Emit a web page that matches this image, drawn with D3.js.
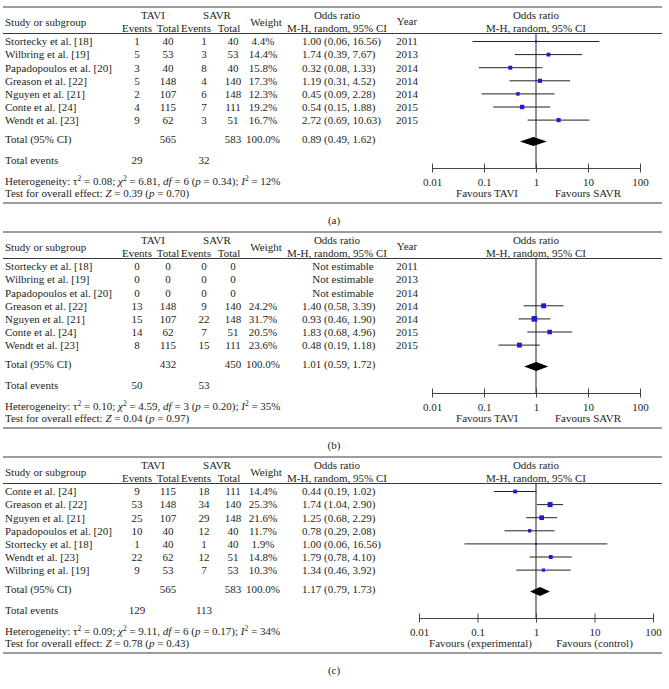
<!DOCTYPE html>
<html>
<head>
<meta charset="utf-8">
<script src="https://cdn.jsdelivr.net/npm/d3@7"></script>
<style>
  body { margin: 0; background: #fff; }
  svg text { font-family: "Liberation Serif", "Times New Roman", serif; font-size: 11px; fill: #231f20; }
</style>
</head>
<body>
<svg id="chart" width="669" height="689"></svg>
<script>
// ---- panel (a) ----
var studiesA = ['Stortecky et al. [18]', 'Wilbring et al. [19]', 'Papadopoulos et al. [20]', 'Greason et al. [22]', 'Nguyen et al. [21]', 'Conte et al. [24]', 'Wendt et al. [23]'];
var yearsA = [2011, 2013, 2014, 2014, 2014, 2015, 2015];
var taviEventsA = [1, 5, 3, 5, 2, 4, 9];
var taviTotalA = [40, 53, 40, 148, 107, 115, 62];
var savrEventsA = [1, 3, 8, 4, 6, 7, 3];
var savrTotalA = [40, 53, 40, 140, 148, 111, 51];
var weightA = [4.4, 14.4, 15.8, 17.3, 12.3, 19.2, 16.7];
var orA = [1.00, 1.74, 0.32, 1.19, 0.45, 0.54, 2.72];
var loA = [0.06, 0.39, 0.08, 0.31, 0.09, 0.15, 0.69];
var hiA = [16.56, 7.67, 1.33, 4.52, 2.28, 1.88, 10.63];
var totalA = [565, 583, 0.89, 0.49, 1.62, 29, 32]; // tavi n, savr n, OR, lo, hi, tavi ev, savr ev
var hetA = ['0.08', '6.81', '6', '0.34', '12'];
var zA = ['0.39', '0.70'];

// ---- panel (b) ----
var studiesB = studiesA;
var yearsB = yearsA;
var taviEventsB = [0, 0, 0, 13, 15, 14, 8];
var taviTotalB = [0, 0, 0, 148, 107, 62, 115];
var savrEventsB = [0, 0, 0, 9, 22, 7, 15];
var savrTotalB = [0, 0, 0, 140, 148, 51, 111];
var weightB = [null, null, null, 24.2, 31.7, 20.5, 23.6];
var orB = [null, null, null, 1.40, 0.93, 1.83, 0.48];
var loB = [null, null, null, 0.58, 0.46, 0.68, 0.19];
var hiB = [null, null, null, 3.39, 1.90, 4.96, 1.18];
var totalB = [432, 450, 1.01, 0.59, 1.72, 50, 53];
var hetB = ['0.10', '4.59', '3', '0.20', '35'];
var zB = ['0.04', '0.97'];

// ---- panel (c) ----
var studiesC = ['Conte et al. [24]', 'Greason et al. [22]', 'Nguyen et al. [21]', 'Papadopoulos et al. [20]', 'Stortecky et al. [18]', 'Wendt et al. [23]', 'Wilbring et al. [19]'];
var taviEventsC = [9, 53, 25, 10, 1, 22, 9];
var taviTotalC = [115, 148, 107, 40, 40, 62, 53];
var savrEventsC = [18, 34, 29, 12, 1, 12, 7];
var savrTotalC = [111, 140, 148, 40, 40, 51, 53];
var weightC = [14.4, 25.3, 21.6, 11.7, 1.9, 14.8, 10.3];
var orC = [0.44, 1.74, 1.25, 0.78, 1.00, 1.79, 1.34];
var loC = [0.19, 1.04, 0.68, 0.29, 0.06, 0.78, 0.46];
var hiC = [1.02, 2.90, 2.29, 2.08, 16.56, 4.10, 3.92];
var totalC = [565, 583, 1.17, 0.79, 1.73, 129, 113];
var hetC = ['0.09', '9.11', '6', '0.17', '34'];
var zC = ['0.78', '0.43'];

var tickValues = [0.01, 0.1, 1, 10, 100];
var tickLabels = ['0.01', '0.1', '1', '10', '100'];

function rows(studies, years, te, tt, se, st, w, or, lo, hi) {
  return studies.map(function(s, i) {
    return { study: s, year: years ? years[i] : null, te: te[i], tt: tt[i], se: se[i], st: st[i],
             w: w[i], or: or[i], lo: lo[i], hi: hi[i] };
  });
}

var panels = [
  { label: '(a)', top: 7, year: true, range: [432, 640], fav: ['Favours TAVI', 'Favours SAVR'],
    rows: rows(studiesA, yearsA, taviEventsA, taviTotalA, savrEventsA, savrTotalA, weightA, orA, loA, hiA),
    total: totalA, het: hetA, z: zA },
  { label: '(b)', top: 232, year: true, range: [432, 640], fav: ['Favours TAVI', 'Favours SAVR'],
    rows: rows(studiesB, yearsB, taviEventsB, taviTotalB, savrEventsB, savrTotalB, weightB, orB, loB, hiB),
    total: totalB, het: hetB, z: zB },
  { label: '(c)', top: 457, year: false, range: [419, 653], fav: ['Favours (experimental)', 'Favours (control)'],
    rows: rows(studiesC, null, taviEventsC, taviTotalC, savrEventsC, savrTotalC, weightC, orC, loC, hiC),
    total: totalC, het: hetC, z: zC }
];

var svg = d3.select('#chart');
var col = { study: 5, te: 137, tt: 168, se: 204, st: 233, w: 263, or: 302, orHead: 337, year: 407 };
var rowY = d3.scaleLinear().domain([0, 1]).range([34.5, 47.6]);
var f2 = d3.format('.2f');

function txt(g, x, y, s, anchor) {
  return g.append('text').attr('x', x).attr('y', y).attr('dy', '0.35em')
    .attr('text-anchor', anchor || 'middle').text(s);
}

// text built from pieces, with italics and superscripts
function rich(g, x, y, parts) {
  var t = g.append('text').attr('x', x).attr('y', y).attr('dy', '0.35em');
  var up = false;
  parts.forEach(function(p) {
    var ts = t.append('tspan').text(p[0]);
    if (p[1] === 'i') ts.style('font-style', 'italic');
    if (p[1] === 's') { ts.attr('dy', -4).style('font-size', '7.5px'); up = true; }
    else if (up) { ts.attr('dy', 4); up = false; }
  });
}

function fmtOR(d) { return f2(d.or) + ' (' + f2(d.lo) + ', ' + f2(d.hi) + ')'; }

panels.forEach(function(p) {
  var g = svg.append('g').attr('transform', 'translate(0,' + p.top + ')');
  var x = d3.scaleLog().domain([0.01, 100]).range(p.range);
  var axisY = 161;

  // rules
  [0, 26.5, 196].forEach(function(y) {
    g.append('line').attr('x1', 3).attr('x2', 662).attr('y1', y).attr('y2', y)
      .attr('stroke', '#3a3a3a').attr('stroke-width', 1);
  });

  // header
  txt(g, col.study, 15, 'Study or subgroup', 'start');
  txt(g, 153, 8, 'TAVI');
  txt(g, 217, 8, 'SAVR');
  txt(g, col.te, 21, 'Events');
  txt(g, col.tt, 21, 'Total');
  txt(g, 196, 21, 'Events');
  txt(g, 229, 21, 'Total');
  txt(g, 266, 15, 'Weight');
  txt(g, col.orHead, 8, 'Odds ratio');
  txt(g, col.orHead, 21, 'M-H, random, 95% CI');
  if (p.year) txt(g, col.year, 14.5, 'Year');
  txt(g, x(1), 8, 'Odds ratio');
  txt(g, x(1), 21, 'M-H, random, 95% CI');

  // study rows
  p.rows.forEach(function(d, i) {
    var y = rowY(i);
    txt(g, col.study, y, d.study, 'start');
    txt(g, col.te, y, d.te);
    txt(g, col.tt, y, d.tt);
    txt(g, col.se, y, d.se);
    txt(g, col.st, y, d.st);
    if (d.or != null) {
      txt(g, col.w, y, d.w.toFixed(1) + '%');
      txt(g, col.or, y, fmtOR(d), 'start');
    } else {
      txt(g, 343, y, 'Not estimable');
    }
    if (p.year) txt(g, col.year, y, d.year);
  });

  // totals
  var T = p.total;
  txt(g, col.study, 132, 'Total (95% CI)', 'start');
  txt(g, col.tt, 132, T[0]);
  txt(g, col.st, 132, T[1]);
  txt(g, col.w, 132, '100.0%');
  txt(g, col.or, 132, fmtOR({ or: T[2], lo: T[3], hi: T[4] }), 'start');
  txt(g, col.study, 153, 'Total events', 'start');
  txt(g, col.te, 153, T[5]);
  txt(g, col.se, 153, T[6]);

  rich(g, col.study, 174.5, [
    ['Heterogeneity: τ'], ['2', 's'], [' = ' + p.het[0] + '; '], ['χ', 'i'], ['2', 's'],
    [' = ' + p.het[1] + ', '], ['df', 'i'], [' = ' + p.het[2] + ' ('], ['p', 'i'],
    [' = ' + p.het[3] + '); '], ['I', 'i'], ['2', 's'], [' = ' + p.het[4] + '%']
  ]);
  rich(g, col.study, 186, [
    ['Test for overall effect: '], ['Z', 'i'], [' = ' + p.z[0] + ' ('], ['p', 'i'], [' = ' + p.z[1] + ')']
  ]);

  txt(g, 334, 213, p.label);

  // forest plot: line of no effect
  g.append('line').attr('x1', x(1)).attr('x2', x(1)).attr('y1', 26.5).attr('y2', axisY)
    .attr('stroke', '#222').attr('stroke-width', 1);

  var est = p.rows.filter(function(d) { return d.or != null; });
  var marks = g.append('g');
  marks.selectAll('line.ci').data(est).enter().append('line').attr('class', 'ci')
    .attr('x1', function(d) { return x(d.lo); })
    .attr('x2', function(d) { return x(d.hi); })
    .attr('y1', function(d) { return rowY(p.rows.indexOf(d)); })
    .attr('y2', function(d) { return rowY(p.rows.indexOf(d)); })
    .attr('stroke', '#222').attr('stroke-width', 1);
  marks.selectAll('rect').data(est).enter().append('rect')
    .each(function(d) {
      var s = Math.max(2, Math.sqrt(d.w) * 1.0);
      d3.select(this).attr('x', x(d.or) - s / 2).attr('y', rowY(p.rows.indexOf(d)) - s / 2)
        .attr('width', s).attr('height', s);
    })
    .attr('fill', '#1c1cd8');

  // pooled diamond
  var dy = 134.5, dh = 4.5;
  g.append('path')
    .attr('d', 'M' + x(T[3]) + ',' + dy + 'L' + x(T[2]) + ',' + (dy - dh) + 'L' + x(T[4]) + ',' + dy +
      'L' + x(T[2]) + ',' + (dy + dh) + 'Z')
    .attr('fill', '#000');

  // axis
  var ax = g.append('g').attr('transform', 'translate(0,' + axisY + ')')
    .call(d3.axisBottom(x).tickValues(tickValues).tickSize(0).tickPadding(0)
      .tickFormat(function(v, i) { return tickLabels[i]; }));
  ax.select('.domain').attr('stroke', '#444');
  ax.selectAll('.tick line').attr('y1', -4.5).attr('y2', 4.5).attr('stroke', '#444');
  ax.selectAll('.tick text').attr('y', 14).attr('dy', '0.35em')
    .style('font-family', '"Liberation Serif", serif').style('font-size', '11px').attr('fill', '#231f20');

  txt(g, x(0.1) + 3, 186.5, p.fav[0]);
  txt(g, x(10), 186.5, p.fav[1]);
});
</script>
</body>
</html>
